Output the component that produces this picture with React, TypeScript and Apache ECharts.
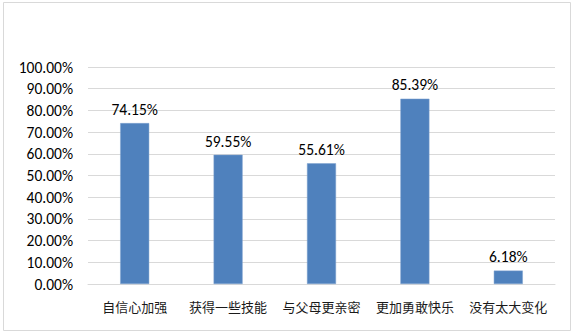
import React, { useEffect, useRef } from "react";
import * as echarts from "echarts";

const categories = ["自信心加强", "获得一些技能", "与父母更亲密", "更加勇敢快乐", "没有太大变化"];
const values = [74.15, 59.55, 55.61, 85.39, 6.18];
const yTicks = { min: 0, max: 100, interval: 10 };

export default function App() {
  const ref = useRef<HTMLDivElement>(null);
  useEffect(() => {
    if (!ref.current) return;
    const chart = echarts.init(ref.current, null, { renderer: "svg" });
    const font = "Calibri, Carlito, 'Noto Sans', 'Noto Sans CJK SC', sans-serif";
    chart.setOption({
      animation: false,
      backgroundColor: "#ffffff",
      graphic: [
        {
          type: "rect",
          shape: { x: 3.5, y: 2.5, width: 567, height: 328 },
          style: { fill: "none", stroke: "#d9d9d9", lineWidth: 1 },
        },
      ],
      grid: { left: 88, right: 19, top: 67, bottom: 51, containLabel: false },
      xAxis: {
        type: "category",
        data: categories,
        axisLine: { show: true, lineStyle: { color: "#d9d9d9" } },
        axisTick: { show: false },
        axisLabel: { color: "#1a1a1a", fontSize: 13, margin: 16, fontFamily: "'Noto Sans CJK SC', sans-serif", interval: 0 },
      },
      yAxis: {
        type: "value",
        min: yTicks.min,
        max: yTicks.max,
        interval: yTicks.interval,
        axisLine: { show: false },
        axisTick: { show: false },
        splitLine: { lineStyle: { color: "#d9d9d9", width: 1 } },
        axisLabel: {
          color: "#000",
          fontSize: 15.5,
          margin: 15,
          fontFamily: font,
          formatter: (v: number) => v.toFixed(2) + "%",
        },
      },
      series: [
        {
          type: "bar",
          data: values,
          barWidth: 29,
          itemStyle: { color: "#4f81bd", borderColor: "#7da0cf", borderWidth: 0.5 },
          label: {
            show: true,
            position: "top",
            distance: 6,
            color: "#000",
            fontSize: 15.5,
            fontFamily: font,
            formatter: (p: any) => p.value.toFixed(2) + "%",
          },
        },
      ],
    });
    return () => chart.dispose();
  }, []);
  return <div ref={ref} style={{ position: "fixed", left: 0, top: 0, width: 574, height: 335 }} />;
}
